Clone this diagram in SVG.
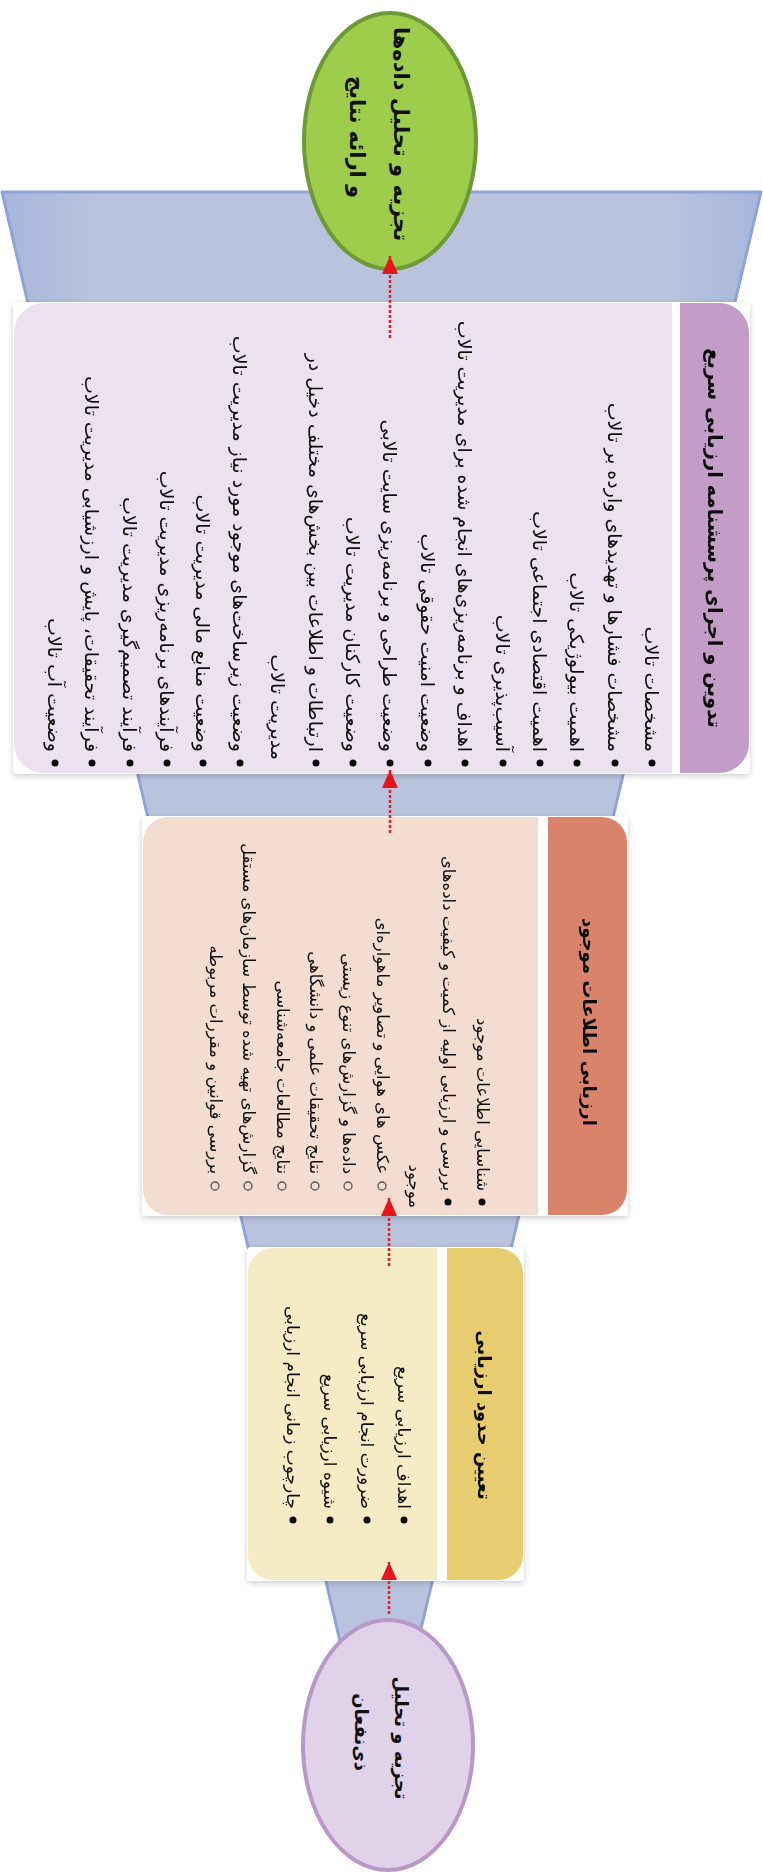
<svg xmlns="http://www.w3.org/2000/svg" width="763" height="1876" viewBox="0 0 763 1876">
<defs>
<linearGradient id="fun" x1="0" y1="0" x2="1" y2="0">
<stop offset="0" stop-color="#a6b5dc"/>
<stop offset="0.12" stop-color="#b9c3de"/>
<stop offset="0.88" stop-color="#b9c3de"/>
<stop offset="1" stop-color="#a6b5dc"/>
</linearGradient>
<marker id="ah" viewBox="0 0 16 18" refX="8" refY="0" markerWidth="16" markerHeight="18" markerUnits="userSpaceOnUse" orient="0">
<path d="M8 0 L16 18 L0 18 Z" fill="#e8141c"/>
</marker>
<filter id="sh" x="-5%" y="-5%" width="110%" height="110%">
<feGaussianBlur in="SourceAlpha" stdDeviation="3"/>
<feOffset dx="0" dy="2"/>
<feComponentTransfer><feFuncA type="linear" slope="0.2"/></feComponentTransfer>
<feMerge><feMergeNode/><feMergeNode in="SourceGraphic"/></feMerge>
</filter>
</defs>
<style>
.t{font-family:"DejaVu Sans",sans-serif;font-size:16.5px;fill:#111;text-anchor:end;dominant-baseline:central}
.p{font-size:19px}
.y{font-size:17px}
.h{font-family:"DejaVu Sans",sans-serif;font-size:18px;font-weight:bold;fill:#111;text-anchor:middle;dominant-baseline:central}
.hp{font-size:19.5px}
.e{font-family:"DejaVu Sans",sans-serif;font-size:18px;font-weight:bold;fill:#111;text-anchor:middle;dominant-baseline:central}
.eg{font-size:21px}
.b{fill:#111}
.o{fill:none;stroke:#555;stroke-width:1.3}
.conn{stroke:#e0202a;stroke-width:2.5;stroke-dasharray:3 2;fill:none}
</style>
<rect width="763" height="1876" fill="#fff"/>
<polygon id="funnel" points="2,192 761,192 416,1650 342,1650" fill="url(#fun)" stroke="#8ea4d6" stroke-width="3" stroke-linejoin="round"/>

<g id="node-results">
<ellipse cx="390" cy="141" rx="86" ry="128" fill="#9dcd4a" stroke="#6e9a36" stroke-width="4"/>
<text class="e eg" transform="translate(401,134) rotate(90)">تجزیه و تحلیل داده‌ها</text>
<text class="e eg" transform="translate(357,137) rotate(90)">و ارائه نتایج</text>
</g>

<g id="node-questionnaire" filter="url(#sh)">
<rect x="13" y="302" width="737" height="472" rx="4" fill="#fff"/>
<path d="M44 303 H672 V773 H44 A30 30 0 0 1 14 743 V333 A30 30 0 0 1 44 303 Z" fill="#ebe1ef"/>
<path d="M680 303 H719 A30 30 0 0 1 749 333 V743 A30 30 0 0 1 719 773 H680 Z" fill="#c39cc8"/>
<text class="h hp" transform="translate(714,538) rotate(90)">تدوین و اجرای پرسشنامه ارزیابی سریع</text>
<g>
<circle class="b" cx="652" cy="763" r="3.5"/><text class="t p" transform="translate(652,752) rotate(90)">مشخصات تالاب</text>
<circle class="b" cx="615" cy="763" r="3.5"/><text class="t p" transform="translate(615,752) rotate(90)">مشخصات فشارها و تهدیدهای وارده بر تالاب</text>
<circle class="b" cx="577" cy="763" r="3.5"/><text class="t p" transform="translate(577,752) rotate(90)">اهمیت بیولوژیکی تالاب</text>
<circle class="b" cx="540" cy="763" r="3.5"/><text class="t p" transform="translate(540,752) rotate(90)">اهمیت اقتصادی اجتماعی تالاب</text>
<circle class="b" cx="503" cy="763" r="3.5"/><text class="t p" transform="translate(503,752) rotate(90)">آسیب‌پذیری تالاب</text>
<circle class="b" cx="465" cy="763" r="3.5"/><text class="t p" transform="translate(465,752) rotate(90)">اهداف و برنامه‌ریزی‌های انجام شده برای مدیریت تالاب</text>
<circle class="b" cx="428" cy="763" r="3.5"/><text class="t p" transform="translate(428,752) rotate(90)">وضعیت امنیت حقوقی تالاب</text>
<circle class="b" cx="390" cy="763" r="3.5"/><text class="t p" transform="translate(390,752) rotate(90)">وضعیت طراحی و برنامه‌ریزی سایت تالابی</text>
<circle class="b" cx="353" cy="763" r="3.5"/><text class="t p" transform="translate(353,752) rotate(90)">وضعیت کارکنان مدیریت تالاب</text>
<circle class="b" cx="316" cy="763" r="3.5"/><text class="t p" transform="translate(316,752) rotate(90)">ارتباطات و اطلاعات بین بخش‌های مختلف دخیل در</text>
<text class="t p" transform="translate(278,760) rotate(90)">مدیریت تالاب</text>
<circle class="b" cx="240" cy="763" r="3.5"/><text class="t p" transform="translate(240,752) rotate(90)">وضعیت زیرساخت‌های موجود مورد نیاز مدیریت تالاب</text>
<circle class="b" cx="203" cy="763" r="3.5"/><text class="t p" transform="translate(203,752) rotate(90)">وضعیت منابع مالی مدیریت تالاب</text>
<circle class="b" cx="167" cy="763" r="3.5"/><text class="t p" transform="translate(167,752) rotate(90)">فرآیندهای برنامه‌ریزی مدیریت تالاب</text>
<circle class="b" cx="130" cy="763" r="3.5"/><text class="t p" transform="translate(130,752) rotate(90)">فرآیند تصمیم‌گیری مدیریت تالاب</text>
<circle class="b" cx="92" cy="763" r="3.5"/><text class="t p" transform="translate(92,752) rotate(90)">فرآیند تحقیقات، پایش و ارزشیابی مدیریت تالاب</text>
<circle class="b" cx="55" cy="763" r="3.5"/><text class="t p" transform="translate(55,752) rotate(90)">وضعیت آب تالاب</text>
</g>
</g>

<g id="node-existing-info" filter="url(#sh)">
<rect x="142" y="816" width="486" height="400" rx="4" fill="#fff"/>
<path d="M168 817 H538 V1215 H168 A25 25 0 0 1 143 1190 V842 A25 25 0 0 1 168 817 Z" fill="#f3dcd0"/>
<path d="M548 817 H602 A25 25 0 0 1 627 842 V1190 A25 25 0 0 1 602 1215 H548 Z" fill="#d9836a"/>
<text class="h" transform="translate(589,1022) rotate(90)">ارزیابی اطلاعات موجود</text>
<circle class="b" cx="482" cy="1202" r="3.5"/><text class="t" transform="translate(482,1191) rotate(90)">شناسایی اطلاعات موجود</text>
<circle class="b" cx="448" cy="1202" r="3.5"/><text class="t" transform="translate(448,1191) rotate(90)">بررسی و ارزیابی اولیه از کمیت و کیفیت داده‌های</text>
<text class="t" transform="translate(414,1208) rotate(90)">موجود</text>
<circle class="o" cx="382" cy="1186" r="4"/><text class="t" transform="translate(382,1174) rotate(90)">عکس های هوایی و تصاویر ماهواره‌ای</text>
<circle class="o" cx="348" cy="1186" r="4"/><text class="t" transform="translate(348,1174) rotate(90)">داده‌ها و گزارش‌های تنوع زیستی</text>
<circle class="o" cx="315" cy="1186" r="4"/><text class="t" transform="translate(315,1174) rotate(90)">نتایج تحقیقات علمی و دانشگاهی</text>
<circle class="o" cx="282" cy="1186" r="4"/><text class="t" transform="translate(282,1174) rotate(90)">نتایج مطالعات جامعه‌شناسی</text>
<circle class="o" cx="248" cy="1186" r="4"/><text class="t" transform="translate(248,1174) rotate(90)">گزارش‌های تهیه شده توسط سازمان‌های مستقل</text>
<circle class="o" cx="215" cy="1186" r="4"/><text class="t" transform="translate(215,1174) rotate(90)">بررسی قوانین و مقررات مربوطه</text>
</g>

<g id="node-scope" filter="url(#sh)">
<rect x="247" y="1247" width="277" height="334" rx="4" fill="#fff"/>
<path d="M273 1248 H437 V1580 H273 A25 25 0 0 1 248 1555 V1273 A25 25 0 0 1 273 1248 Z" fill="#f5ebc4"/>
<path d="M447 1248 H498 A25 25 0 0 1 523 1273 V1555 A25 25 0 0 1 498 1580 H447 Z" fill="#e7cd70"/>
<text class="h" transform="translate(484,1415) rotate(90)">تعیین حدود ارزیابی</text>
<circle class="b" cx="404" cy="1520" r="3.5"/><text class="t y" transform="translate(404,1509) rotate(90)">اهداف ارزیابی سریع</text>
<circle class="b" cx="367" cy="1520" r="3.5"/><text class="t y" transform="translate(367,1509) rotate(90)">ضرورت انجام ارزیابی سریع</text>
<circle class="b" cx="330" cy="1520" r="3.5"/><text class="t y" transform="translate(330,1509) rotate(90)">شیوه ارزیابی سریع</text>
<circle class="b" cx="293" cy="1520" r="3.5"/><text class="t y" transform="translate(293,1509) rotate(90)">چارچوب زمانی انجام ارزیابی</text>
</g>

<g id="node-stakeholders">
<ellipse cx="388" cy="1745" rx="85" ry="125" fill="#e0d3e9" stroke="#b998c9" stroke-width="4"/>
<text class="e" transform="translate(401,1738) rotate(90)">تجزیه و تحلیل</text>
<text class="e" transform="translate(361,1732) rotate(90)">ذی‌نفعان</text>
</g>

<g id="connectors">
<line class="conn" x1="389" y1="1614" x2="389" y2="1562" marker-end="url(#ah)"/>
<line class="conn" x1="389" y1="1266" x2="389" y2="1198" marker-end="url(#ah)"/>
<line class="conn" x1="390" y1="833" x2="390" y2="770" marker-end="url(#ah)"/>
<line class="conn" x1="390" y1="338" x2="390" y2="256" marker-end="url(#ah)"/>
</g>
</svg>
